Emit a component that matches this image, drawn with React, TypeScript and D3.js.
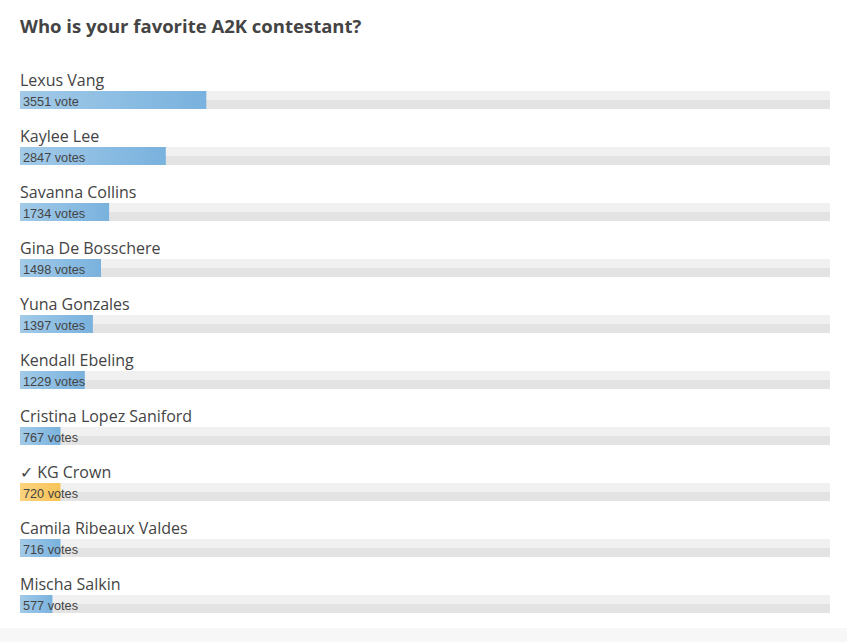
import React from "react";
import * as d3 from "d3";

const names = [
  "Lexus Vang",
  "Kaylee Lee",
  "Savanna Collins",
  "Gina De Bosschere",
  "Yuna Gonzales",
  "Kendall Ebeling",
  "Cristina Lopez Saniford",
  "✓ KG Crown",
  "Camila Ribeaux Valdes",
  "Mischa Salkin",
];
const votes = [3551, 2847, 1734, 1498, 1397, 1229, 767, 720, 716, 577];
const percents = [23, 18, 11, 10, 9, 8, 5, 5, 5, 4];
const voteLabels = ["3551 vote", "2847 votes", "1734 votes", "1498 votes", "1397 votes", "1229 votes", "767 votes", "720 votes", "716 votes", "577 votes"];
const highlighted = [false, false, false, false, false, false, false, true, false, false];

const W = 847;
const H = 642;

export default function App() {
  const x = d3.scaleLinear().domain([0, 100]).range([20, 830]);
  const y = d3.scaleBand<number>().domain(d3.range(names.length)).range([65, 625]).padding(0);
  return (
    <div style={{ position: "fixed", left: 0, top: 0, width: W, height: H, background: "#fff" }}>
      <svg width={W} height={H} style={{ display: "block" }}>
        <defs>
          <linearGradient id="blue" x1="0" x2="1" y1="0" y2="0">
            <stop offset="0" stopColor="#a2cae8" />
            <stop offset="1" stopColor="#79b2de" />
          </linearGradient>
          <linearGradient id="orange" x1="0" x2="1" y1="0" y2="0">
            <stop offset="0" stopColor="#fcd37e" />
            <stop offset="1" stopColor="#f9c458" />
          </linearGradient>
        </defs>
        <rect x={0} y={628} width={W} height={14} fill="#f7f7f7" />
        <text x={20} y={33} fontFamily="'Open Sans', sans-serif" fontWeight={700} fontSize={18.5} fill="#444">
          Who is your favorite A2K contestant?
        </text>
        {names.map((n, i) => {
          const y0 = y(i)!;
          const barTop = y0 + 26;
          return (
            <g key={n}>
              <text x={20} y={y0 + 21} fontFamily="'Open Sans', sans-serif" fontSize={16} fill="#444">
                {n}
              </text>
              <rect x={x(0)} y={barTop} width={x(100) - x(0)} height={9} fill="#f0f0f0" />
              <rect x={x(0)} y={barTop + 9} width={x(100) - x(0)} height={9} fill="#e3e3e3" />
              <rect x={x(0)} y={barTop} width={x(percents[i]) - x(0)} height={18} fill={highlighted[i] ? "url(#orange)" : "url(#blue)"} />
              <text x={23} y={barTop + 14.5} fontFamily="'Liberation Sans', Arial, sans-serif" fontSize={12.7} fill="#444" data-votes={votes[i]}>
                {voteLabels[i]}
              </text>
            </g>
          );
        })}
      </svg>
    </div>
  );
}
